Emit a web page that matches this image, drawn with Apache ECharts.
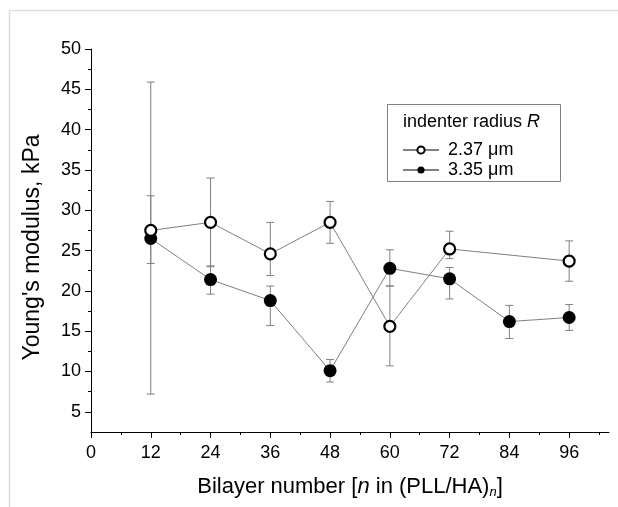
<!DOCTYPE html>
<html>
<head>
<meta charset="utf-8">
<script src="https://cdn.jsdelivr.net/npm/echarts@6/dist/echarts.min.js"></script>
<style>
  html, body { margin: 0; padding: 0; background: #fff; }
  #main { width: 618px; height: 507px; }
</style>
</head>
<body>
<div id="main"></div>
<script>
// bilayer numbers
var xSmall = [12, 24, 36, 48, 60, 72, 96];
var xLarge = [12, 24, 36, 48, 60, 72, 84, 96];
// indenter radius 2.37 um
var ySmall    = [27.5, 28.5, 24.6, 28.5, 15.6, 25.2, 23.7];
var ySmallLow = [23.4, 23.1, 21.9, 25.9, 10.7, 24.0, 21.2];
var ySmallHi  = [31.8, 34.0, 28.5, 31.1, 20.6, 27.4, 26.2];
// indenter radius 3.35 um
var yLarge    = [26.5, 21.4, 18.8, 10.1, 22.8, 21.5, 16.2, 16.7];
var yLargeLow = [7.2, 19.6, 15.7, 8.7, 20.6, 19.0, 14.1, 15.1];
var yLargeHi  = [45.9, 23.0, 20.6, 11.5, 25.1, 22.9, 18.2, 18.3];
// axis ticks
var xMajor = [0, 12, 24, 36, 48, 60, 72, 84, 96];
var xMinor = [6, 18, 30, 42, 54, 66, 78, 90, 102];
var yMajor = [5, 10, 15, 20, 25, 30, 35, 40, 45, 50];
var yMinor = [7.5, 12.5, 17.5, 22.5, 27.5, 32.5, 37.5, 42.5, 47.5];

var names = ['2.37 μm', '3.35 μm'];

function pairs(xs, ys) {
  return xs.map(function (x, i) { return [x, ys[i]]; });
}
function errs(xs, lo, hi) {
  return xs.map(function (x, i) { return [x, lo[i], hi[i]]; });
}

// vertical error bar with caps
function renderErr(params, api) {
  var top = api.coord([api.value(0), api.value(2)]);
  var bot = api.coord([api.value(0), api.value(1)]);
  var w = 4;
  var st = { stroke: '#808080', lineWidth: 1 };
  return {
    type: 'group',
    children: [
      { type: 'line', shape: { x1: top[0], y1: top[1], x2: bot[0], y2: bot[1] }, style: st },
      { type: 'line', shape: { x1: top[0] - w, y1: top[1], x2: top[0] + w, y2: top[1] }, style: st },
      { type: 'line', shape: { x1: bot[0] - w, y1: bot[1], x2: bot[0] + w, y2: bot[1] }, style: st }
    ]
  };
}

var font = 'Liberation Sans, Arial, sans-serif';
var chart = echarts.init(document.getElementById('main'));

var option = {
  backgroundColor: '#fff',
  animation: false,
  textStyle: { fontFamily: font },
  grid: { left: 91, right: 9, top: 49, bottom: 75, containLabel: false },
  graphic: [
    { type: 'rect', shape: { x: 9.5, y: 10.5, width: 700, height: 600 },
      style: { fill: 'none', stroke: '#dedede', lineWidth: 1.5 }, silent: true },
    { type: 'rect', shape: { x: 387.5, y: 104.5, width: 173, height: 77 },
      style: { fill: '#fff', stroke: '#808080', lineWidth: 1 }, z: 5 },
    { type: 'text', left: 403, top: 113, z: 6,
      style: { text: 'indenter radius {i|R}', font: '18px ' + font, fill: '#000',
        rich: { i: { fontStyle: 'italic', fontSize: 18, fontFamily: font } } } }
  ],
  legend: {
    orient: 'vertical',
    left: 402,
    top: 141,
    padding: 0,
    itemWidth: 36,
    itemHeight: 9,
    itemGap: 2,
    z: 7,
    textStyle: { fontSize: 18, color: '#000', fontFamily: font, padding: [0, 0, 0, 4] },
    data: names
  },
  xAxis: [{
    type: 'value',
    min: 0,
    max: 104,
    position: 'bottom',
    name: 'Bilayer number [{i|n} in (PLL/HA){sub|n}]',
    nameLocation: 'middle',
    nameGap: 42,
    nameTextStyle: {
      fontSize: 22, color: '#000', fontFamily: font, verticalAlign: 'top',
      rich: {
        i: { fontSize: 22, fontStyle: 'italic', fontFamily: font },
        sub: { fontSize: 13, fontStyle: 'italic', fontFamily: font, verticalAlign: 'bottom', padding: [12, 0, 0, 0] }
      }
    },
    axisLine: { onZero: false, lineStyle: { color: '#000', width: 1 } },
    axisTick: { customValues: xMajor, length: 6, lineStyle: { color: '#000' } },
    axisLabel: { customValues: xMajor, fontSize: 18, color: '#000', margin: 12 },
    splitLine: { show: false }
  }, {
    type: 'value',
    min: 0,
    max: 104,
    position: 'bottom',
    axisLine: { show: false },
    axisTick: { customValues: xMinor, length: 3, lineStyle: { color: '#000' } },
    axisLabel: { show: false },
    splitLine: { show: false }
  }],
  yAxis: [{
    type: 'value',
    min: 2.5,
    max: 50,
    position: 'left',
    name: "Young's modulus, kPa",
    nameLocation: 'middle',
    nameGap: 47,
    nameRotate: 90,
    nameTextStyle: { fontSize: 23, color: '#000', fontFamily: font, padding: [0, 14, 0, 0] },
    axisLine: { show: true, onZero: false, lineStyle: { color: '#000', width: 1 } },
    axisTick: { show: true, customValues: yMajor, length: 6, lineStyle: { color: '#000' } },
    axisLabel: { customValues: yMajor, fontSize: 18, color: '#000', margin: 10 },
    splitLine: { show: false }
  }, {
    type: 'value',
    min: 2.5,
    max: 50,
    position: 'left',
    offset: 0,
    axisLine: { show: false },
    axisTick: { show: true, customValues: yMinor, length: 3, lineStyle: { color: '#000' } },
    axisLabel: { show: false },
    splitLine: { show: false }
  }],
  series: [
    {
      type: 'custom',
      renderItem: renderErr,
      data: errs(xSmall, ySmallLow, ySmallHi),
      z: 1,
      silent: true
    },
    {
      type: 'custom',
      renderItem: renderErr,
      data: errs(xLarge, yLargeLow, yLargeHi),
      z: 1,
      silent: true
    },
    {
      name: names[0],
      type: 'line',
      data: pairs(xSmall, ySmall),
      symbol: 'circle',
      symbolSize: 11,
      showAllSymbol: true,
      lineStyle: { color: '#808080', width: 1 },
      itemStyle: { color: '#fff', borderColor: '#000', borderWidth: 2.2 },
      z: 3
    },
    {
      name: names[1],
      type: 'line',
      data: pairs(xLarge, yLarge),
      symbol: 'circle',
      symbolSize: 13,
      showAllSymbol: true,
      lineStyle: { color: '#808080', width: 1 },
      itemStyle: { color: '#000', borderColor: '#000', borderWidth: 0 },
      z: 2
    }
  ]
};

chart.setOption(option);
</script>
</body>
</html>
